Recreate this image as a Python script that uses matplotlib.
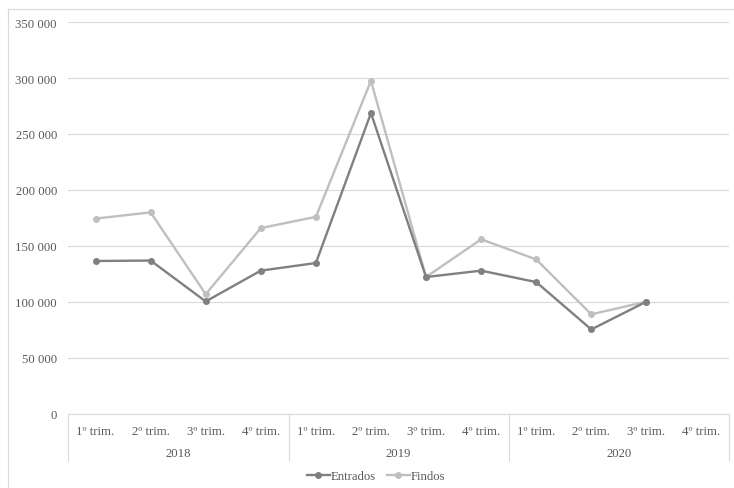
import matplotlib
matplotlib.use("Agg")
import matplotlib.pyplot as plt
from matplotlib.lines import Line2D
import matplotlib.transforms as mtransforms

quarters = ["1º trim.", "2º trim.", "3º trim.", "4º trim."] * 3
years = ["2018", "2019", "2020"]
entrados = [136600, 137000, 100500, 128000, 134800, 268700, 122300, 128000, 117800, 75500, 100300, None]
findos = [174500, 180000, 107000, 166000, 176000, 297500, 122300, 156000, 138000, 89000, 100300, None]
yticks = [0, 50000, 100000, 150000, 200000, 250000, 300000, 350000]

plt.rcParams['font.family'] = ['Liberation Serif', 'DejaVu Serif']
fig = plt.figure(figsize=(7.34, 4.89), dpi=100)
W, H = 734, 489
L, R, T, B = 68, 729, 23, 415
ax = fig.add_axes([L / W, 1 - B / H, (R - L) / W, (B - T) / H])

fs = 9.2
tcol = "#595959"
c_ent = "#808080"
c_fin = "#bfbfbf"
x = list(range(len(quarters)))
xe = [i for i, v in zip(x, entrados) if v is not None]
ye = [v for v in entrados if v is not None]
xf = [i for i, v in zip(x, findos) if v is not None]
yf = [v for v in findos if v is not None]
ax.plot(xe, ye, color=c_ent, lw=1.7, marker="o", ms=4, zorder=3)
ax.plot(xf, yf, color=c_fin, lw=1.7, marker="o", ms=4, zorder=2)

ax.set_xlim(-0.5, len(quarters) - 0.5)
ax.set_ylim(0, 350000)
ax.set_yticks(yticks)
ax.set_yticklabels([f"{v:,}".replace(",", " ") for v in yticks], fontsize=fs, color=tcol)
ax.tick_params(axis="y", length=0, pad=8)
ax.set_xticks([])
for s in ax.spines.values():
    s.set_visible(False)
ax.grid(axis="y", color="#d9d9d9", lw=0.8)
ax.set_axisbelow(True)

axis_col = "#d9d9d9"
def fy(py):
    return 1 - py / H
def fx(px):
    return px / W
fig.add_artist(Line2D([fx(L), fx(R)], [fy(B), fy(B)], color=axis_col, lw=0.8))
for bx in [L, 289, 509, R]:
    fig.add_artist(Line2D([fx(bx), fx(bx)], [fy(B), fy(462)], color=axis_col, lw=0.8))

trans = mtransforms.blended_transform_factory(ax.transData, fig.transFigure)
for i, q in enumerate(quarters):
    ax.text(i, fy(432), q, transform=trans, ha="center", va="center", fontsize=fs, color=tcol)
for j, yr in enumerate(years):
    ax.text(4 * j + 1.5, fy(454), yr, transform=trans, ha="center", va="center", fontsize=fs, color=tcol)

fig.add_artist(Line2D([fx(8), fx(8)], [fy(10), fy(489)], color=axis_col, lw=0.8))
fig.add_artist(Line2D([fx(8), fx(734)], [fy(10), fy(10)], color=axis_col, lw=0.8))

handles = [Line2D([], [], color=c_ent, lw=1.7, marker="o", ms=4),
           Line2D([], [], color=c_fin, lw=1.7, marker="o", ms=4)]
fig.legend(handles, ["Entrados", "Findos"], loc="center", bbox_to_anchor=(fx(376), fy(477)),
           ncol=2, frameon=False, fontsize=fs, handlelength=1.8, handletextpad=0.05,
           columnspacing=0.85, labelcolor=tcol, borderpad=0)

fig.savefig("out.png", dpi=100)
